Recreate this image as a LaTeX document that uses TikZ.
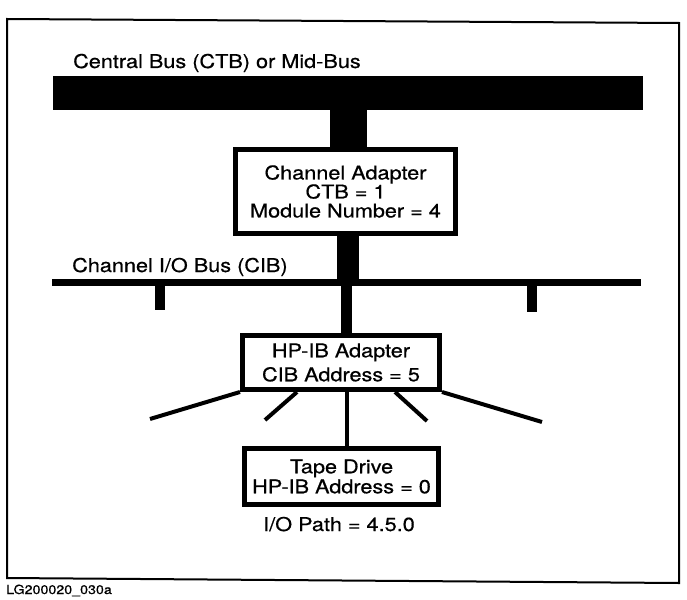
\documentclass[tikz,border=0pt]{standalone}
\usepackage{fontspec}
\setmainfont{TeX Gyre Heros}[FakeStretch=1.14,FakeBold=0.6]
\begin{document}
\begin{tikzpicture}[x=1pt,y=-1pt,
  bus/.style={fill=black,draw=none,inner sep=0pt,outer sep=0pt,anchor=north west},
  unitbox/.style={draw,line width=5pt,align=center,inner sep=0pt,fill=white},
  lbl/.style={inner sep=0pt,font=\fontsize{19}{19}\selectfont},
  stem/.style={line width=#1,line cap=butt},
  spoke/.style={line width=4pt,line cap=butt}]
\useasboundingbox (0,0) rectangle (687,599);
\draw[line width=2pt] (7,19) -- (679,23) -- (679,583) -- (7,578) -- cycle;
% buses
\node[bus,minimum width=590,minimum height=34] (ctb) at (53,76) {};
\node[bus,minimum width=589,minimum height=7] (cib) at (52,279) {};
\node[lbl,anchor=base west] (ctbl) at (73,68) {Central Bus (CTB) or Mid-Bus};
\node[lbl,anchor=base west] (cibl) at (72,272) {Channel I/O Bus (CIB)};
% boxes
\node[unitbox,minimum width=220,minimum height=84,font=\fontsize{19}{19}\selectfont] (ca) at (345.5,191.5)
  {Channel Adapter\\CTB = 1\\Module Number = 4};
\node[unitbox,minimum width=197,minimum height=54,font=\fontsize{19}{24}\selectfont] (hp) at (341,362.5)
  {HP-IB Adapter\\CIB Address = 5};
\node[unitbox,minimum width=194,minimum height=56,font=\fontsize{19}{20}\selectfont] (td) at (341.5,476.5)
  {Tape Drive\\HP-IB Address = 0};
\node[lbl,anchor=base] (path) at (339,531) {I/O Path = 4.5.0};
\node[inner sep=0pt,anchor=base west,font=\fontsize{12.5}{12.5}\selectfont] (fig) at (6,594) {LG200020\_030a};
% stems
\coordinate (s1) at (348.5,0);
\coordinate (s2) at (348,0);
\coordinate (s3) at (346.5,0);
\coordinate (s4) at (347,0);
\draw[stem=37pt] (ctb.south -| s1) -- (ca.north -| s1);
\draw[stem=22pt] (ca.south -| s2) -- (cib.north -| s2);
\draw[stem=11pt] (cib.south -| s3) -- (hp.north -| s3);
% stubs on CIB
\coordinate (stubL) at (160,310);
\coordinate (stubR) at (532,312);
\draw[stem=10pt] (cib.south -| stubL) -- (stubL);
\draw[stem=10pt] (cib.south -| stubR) -- (stubR);
% HP-IB spokes
\coordinate (e1) at (150,419);
\coordinate (e2) at (265,420);
\coordinate (e4) at (427,421);
\coordinate (e5) at (542,422);
\coordinate (b2) at (297,0);
\coordinate (b4) at (395,0);
\draw[spoke] (hp.south west) -- (e1);
\draw[spoke] (hp.south -| b2) -- (e2);
\draw[spoke] (hp.south -| s4) -- (td.north -| s4);
\draw[spoke] (hp.south -| b4) -- (e4);
\draw[spoke] (hp.south east) -- (e5);
\end{tikzpicture}
\end{document}
